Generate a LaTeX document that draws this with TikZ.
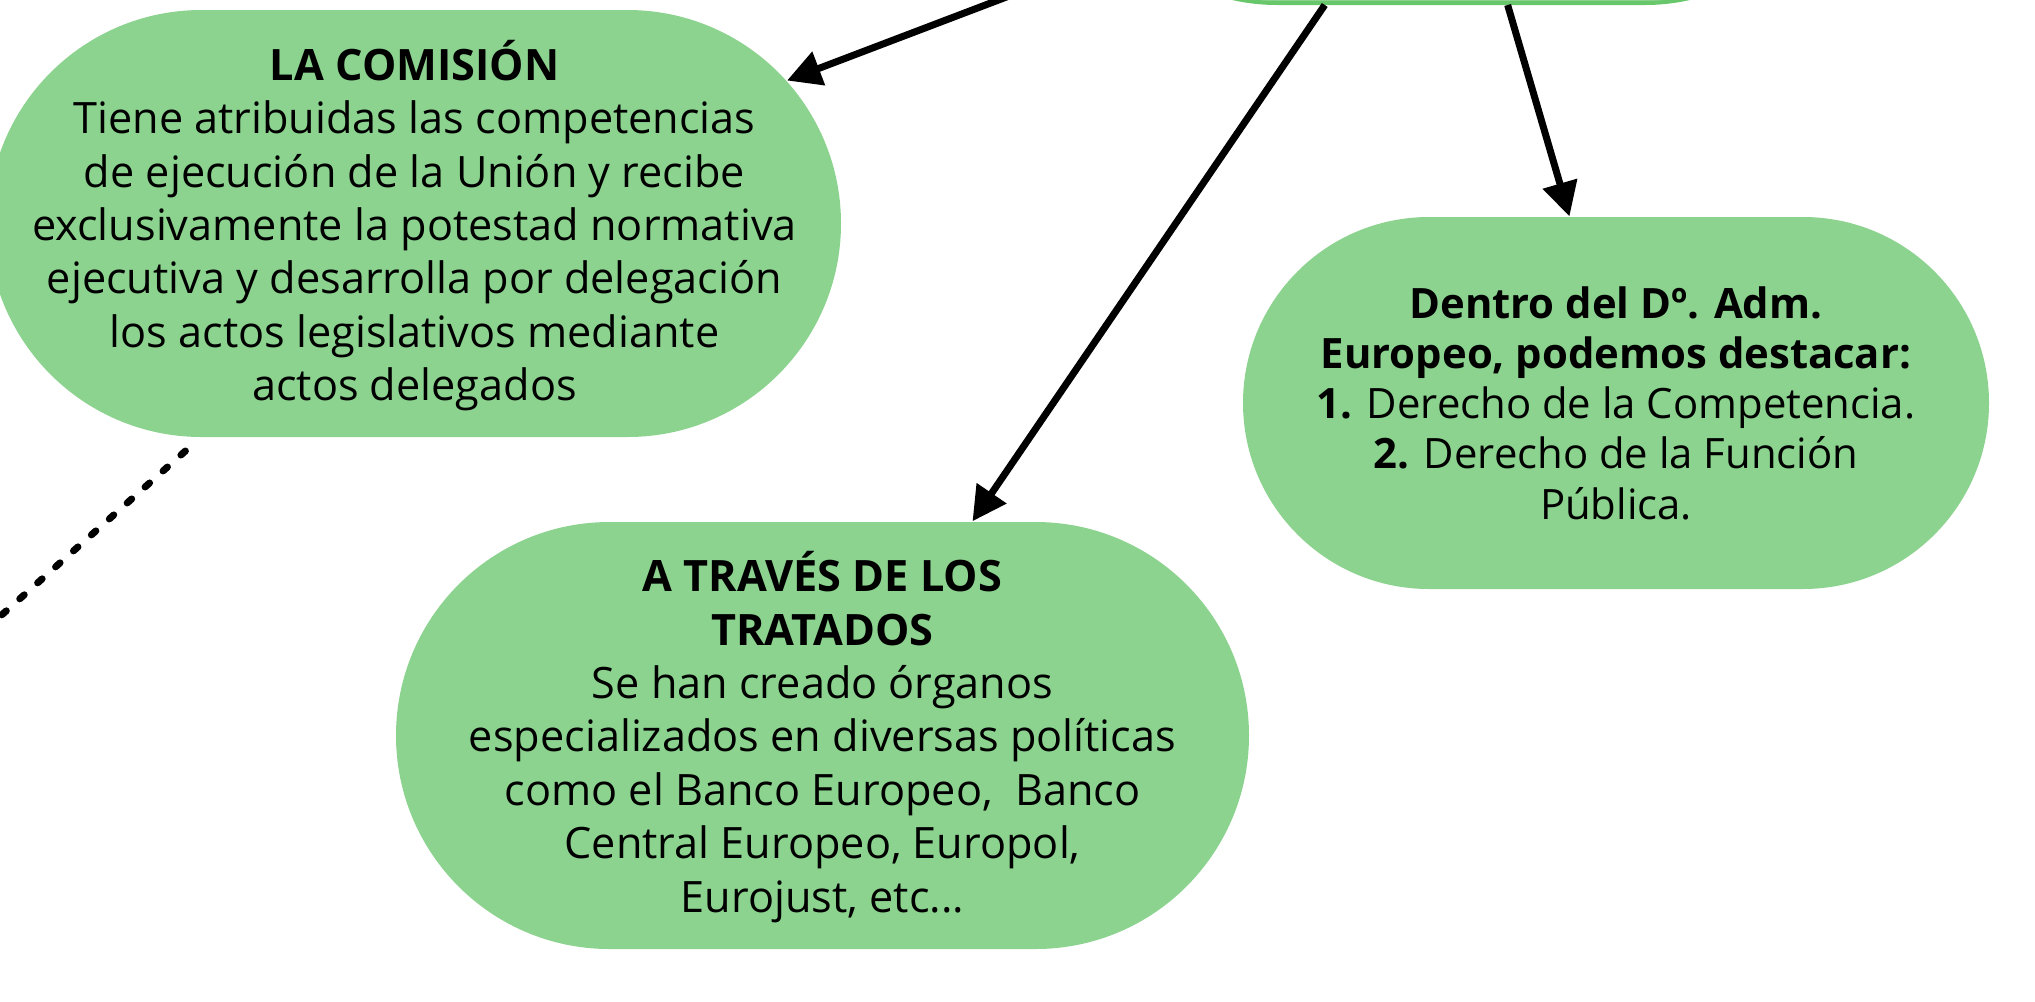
\documentclass[tikz,border=0pt]{standalone}
\usepackage{fontspec}
\setmainfont{Open Sans}
\usetikzlibrary{shapes.misc, arrows.meta}
\definecolor{pillgreen}{RGB}{140,211,143}
\definecolor{topgreen}{RGB}{104,199,106}

\begin{document}
\begin{tikzpicture}[pill/.style={rounded rectangle, fill=pillgreen, inner sep=0pt, font=\fontsize{12.3}{15.2}\selectfont},
  link/.style={-{Triangle[length=0.34cm, width=0.345cm]}, line width=0.07cm},
  dotline/.style={line width=0.07cm, line cap=round, dash pattern=on 0.06cm off 0.18cm}]

  \useasboundingbox (0,0) rectangle (20.35,-10.01);

  % Nodes
  \node[pill, minimum width=8.53cm, minimum height=4.27cm] (com) at (4.145,-2.235) {\makebox[0pt]{\raisebox{-4.4pt}[0pt][0pt]{\begin{tabular}{c}\textbf{LA COMISIÓN}\\Tiene atribuidas las competencias\\de ejecución de la Unión y recibe\\exclusivamente la potestad normativa\\ejecutiva y desarrolla por delegación\\los actos legislativos mediante\\actos delegados\end{tabular}}}};
  \node[pill, node distance=4.205cm, above of=com, xshift=10.465cm, minimum width=7.68cm, minimum height=4cm, draw=topgreen, line width=0.04cm] (top) {};
  \node[pill, node distance=5.12cm, below of=com, xshift=4.08cm, minimum width=8.53cm, minimum height=4.27cm] (trav) {\makebox[0pt]{\raisebox{-4.2pt}[0pt][0pt]{\begin{tabular}{c}\textbf{A TRAVÉS DE LOS}\\\textbf{TRATADOS}\\Se han creado órganos\\especializados en diversas políticas\\como el Banco Europeo,~ Banco\\Central Europeo, Europol,\\Eurojust, etc...\end{tabular}}}};
  \node[pill, node distance=12.015cm, right of=com, yshift=-1.795cm, minimum width=7.46cm, minimum height=3.72cm, font=\fontsize{11.9}{14.3}\selectfont] (dentro) {\makebox[0pt]{\raisebox{-4.6pt}[0pt][0pt]{\begin{tabular}{c}\textbf{Dentro del Dº. Adm.}\\\textbf{Europeo, podemos destacar:}\\\textbf{1.} Derecho de la Competencia.\\\textbf{2.} Derecho de la Función\\Pública.\end{tabular}}}};

  % Arrows
  \draw[link] (top.204.4) -- (com.21.4);
  \draw[link] (top.236.4) -- (trav.55.2);
  \draw[link] (top.283.4) -- (dentro.104.5);

  % Dotted link
  \coordinate (out) at (-0.6,-6.7);
  \draw[dotline, shorten <=0.2cm] (com.225) -- (out);

\end{tikzpicture}
\end{document}
